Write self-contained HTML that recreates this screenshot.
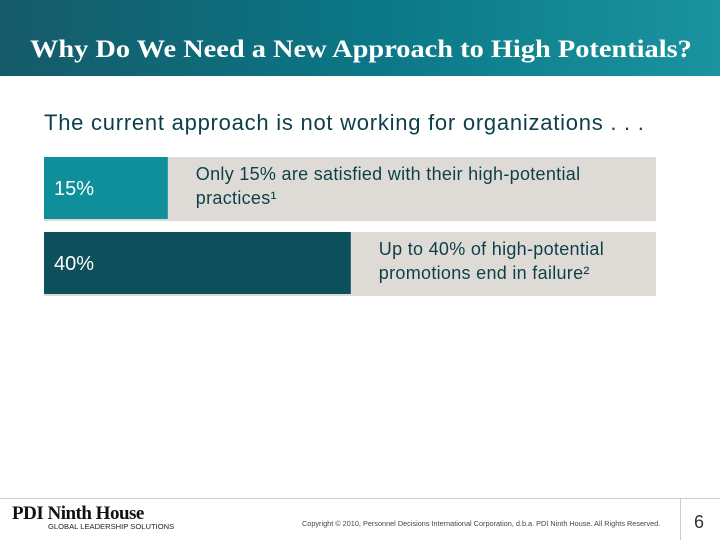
<!DOCTYPE html>
<html><head><meta charset="utf-8"><style>
body{margin:0;width:720px;height:540px;overflow:hidden;background:#fff;font-family:"Liberation Sans",sans-serif;position:relative}
#hdr{position:absolute;left:0;top:0;width:720px;height:76px;background:linear-gradient(90deg,#155a69 0%,#0b7685 50%,#1a94a0 100%)}
#hdr h1{margin:0;position:absolute;left:30px;top:36px;font:bold 25px "Liberation Serif",serif;color:#fff;white-space:nowrap;transform-origin:0 0;transform:scaleX(1.135)}
#sub{position:absolute;left:44px;top:110px;font-size:22px;color:#0d3f4a;white-space:nowrap;letter-spacing:0.75px}
.foot{position:absolute;white-space:nowrap}
</style></head><body>
<div id="hdr"><h1>Why Do We Need a New Approach to High Potentials?</h1></div>
<div id="sub">The current approach is not working for organizations . . .</div>
<svg id="chart" width="720" height="540" style="position:absolute;left:0;top:0"></svg>
<div class="foot" style="left:0;top:498px;width:720px;height:1px;background:#ccc"></div>
<div class="foot" style="left:680px;top:499px;width:1px;height:41px;background:#ccc"></div>
<div class="foot" style="left:12px;top:503px;font:bold 19px 'Liberation Serif',serif;color:#111;letter-spacing:-0.5px">PDI Ninth House</div>
<div class="foot" style="left:48px;top:522px;font-size:7.6px;color:#222">GLOBAL LEADERSHIP SOLUTIONS</div>
<div class="foot" style="left:302px;top:519px;font-size:7.3px;color:#444">Copyright © 2010, Personnel Decisions International Corporation, d.b.a. PDI Ninth House. All Rights Reserved.</div>
<div class="foot" style="left:694px;top:512px;font-size:18px;color:#333">6</div>
<script>
const categories=["satisfied","failed-promotions"];
const values=[15,40];
const labels=["15%","40%"];
const notes=[["Only 15% are satisfied with their high-potential","practices¹"],["Up to 40% of high-potential","promotions end in failure²"]];
const svg=document.getElementById('chart');const NS="http://www.w3.org/2000/svg";
const x0=44,x1=656;
const xs=v=>x0+14+7.32*v;
const rowY=[157,232],rowH=64;
const colors=["#0e8f99","#0d4f5b"];
values.forEach((v,i)=>{
 const y=rowY[i];
 const bg=document.createElementNS(NS,'rect');
 
 
 bg.setAttribute('x',x0);bg.setAttribute('y',y);bg.setAttribute('width',x1-x0);bg.setAttribute('height',rowH);bg.setAttribute('fill','#dedbd6');svg.appendChild(bg);
 const r=document.createElementNS(NS,'rect');
 
 
 r.setAttribute('x',x0);r.setAttribute('y',y);r.setAttribute('width',xs(v)-x0);r.setAttribute('height',rowH-2);r.setAttribute('fill',colors[i]);svg.appendChild(r);
 const t=document.createElementNS(NS,'text');
 
 
 t.setAttribute('x',54);t.setAttribute('y',y+38);t.setAttribute('fill','#fff');t.setAttribute('font-size','20');t.setAttribute('font-family','Liberation Sans, sans-serif');t.textContent=labels[i];svg.appendChild(t);
 notes[i].forEach((ln,j)=>{
  const n=document.createElementNS(NS,'text');
  
  
  n.setAttribute('x',xs(v)+28);n.setAttribute('y',y+23+j*24);n.setAttribute('fill','#0d3f4a');n.setAttribute('font-size','18');n.setAttribute('letter-spacing','0.3');n.setAttribute('font-family','Liberation Sans, sans-serif');n.textContent=ln;svg.appendChild(n);
 });
});
</script>
</body></html>
